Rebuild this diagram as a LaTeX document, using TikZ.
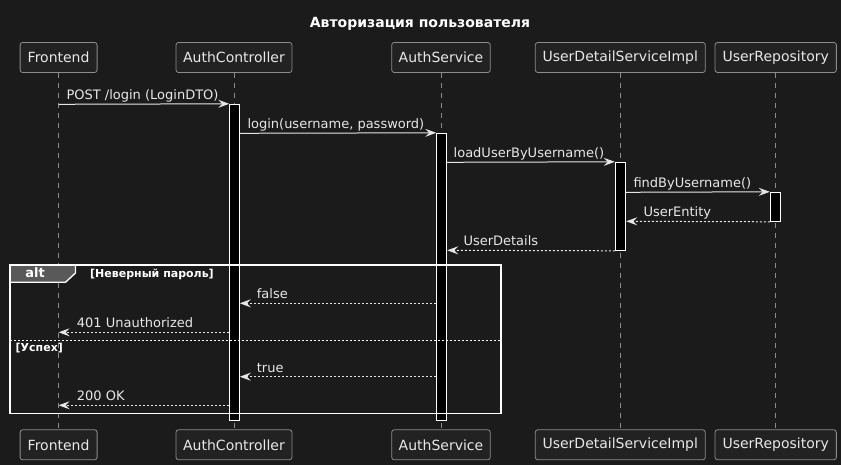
\documentclass[tikz,border=0pt]{standalone}
\usepackage{fontspec}
\setmainfont{DejaVu Sans}
\usetikzlibrary{arrows.meta}
\definecolor{bg}{HTML}{1B1B1B}
\definecolor{boxfill}{HTML}{222222}
\definecolor{boxline}{HTML}{8C8C8C}
\definecolor{txt}{HTML}{E8E8E8}
\definecolor{lifec}{HTML}{8A8A8A}
\definecolor{arrc}{HTML}{E6E6E6}
\definecolor{tabfill}{HTML}{595959}
\tikzset{
  part/.style={draw=boxline, fill=boxfill, rounded corners=2.5pt, line width=0.8pt, text=txt,
    font=\fontsize{14}{16}\selectfont, minimum height=30pt, inner sep=0pt},
  life/.style={draw=lifec, line width=0.8pt, dash pattern=on 5pt off 5pt},
  actbar/.style={draw=white, fill=black, line width=1pt, minimum width=10pt, inner sep=0pt},
  msg/.style={draw=arrc, line width=1pt, -{Stealth[length=11pt,width=8pt,inset=4pt]}},
  ret/.style={msg, dash pattern=on 2pt off 2pt},
  lbl/.style={anchor=base west, inner sep=0pt, text=txt, font=\fontsize{13}{15}\selectfont},
  guard/.style={anchor=base west, inner sep=0pt, text=white, font=\bfseries\fontsize{11}{13}\selectfont},
}
\begin{document}
\begin{tikzpicture}[x=1pt,y=-1pt]
\fill[bg] (0,0) rectangle (841,465);
\useasboundingbox (0,0) rectangle (841,465);

% title
\node[anchor=base, inner sep=0pt, text=white, font=\bfseries\fontsize{14}{16}\selectfont] (title) at (420,27.5) {Авторизация пользователя};

% participants top
\node[part, minimum width=77pt]  (ft) at (58.6,57.5)  {Frontend};
\node[part, minimum width=116pt] (ct) at (234.0,57.5) {AuthController};
\node[part, minimum width=98.6pt] (st) at (441.0,57.5) {AuthService};
\node[part, minimum width=170pt] (ut) at (620.3,57.5) {UserDetailServiceImpl};
\node[part, minimum width=121.3pt] (rt) at (775.7,57.5) {UserRepository};
% participants bottom
\node[part, minimum width=77pt]  (fb) at (58.6,444.8)  {Frontend};
\node[part, minimum width=116pt] (cb) at (234.0,444.8) {AuthController};
\node[part, minimum width=98.6pt] (sb) at (441.0,444.8) {AuthService};
\node[part, minimum width=170pt] (ub) at (620.3,444.8) {UserDetailServiceImpl};
\node[part, minimum width=121.3pt] (rb) at (775.7,444.8) {UserRepository};

% lifelines
\draw[life] (ft.south) -- (fb.north);
\draw[life] (ct.south) -- (cb.north);
\draw[life] (st.south) -- (sb.north);
\draw[life] (ut.south) -- (ub.north);
\draw[life] (rt.south) -- (rb.north);

% activation bars
\node[actbar, minimum width=9.6pt, minimum height=315.7pt] (ba) at (234.5,262.15) {};
\node[actbar, minimum height=287.4pt] (bs) at (441.7,277.0) {};
\node[actbar, minimum width=10.4pt, minimum height=88pt] (bu) at (620.5,206.3) {};
\node[actbar, minimum width=10.4pt, minimum height=29pt] (br) at (775.5,206.8) {};

% messages
\draw[msg] (ft.south |- 0,104.3) -- (ba.north west);
\node[lbl] (l1) at (66.3,99.8) {POST /login (LoginDTO)};
\draw[msg] (ba.east |- 0,133.3) -- (bs.north west);
\node[lbl] (l2) at (247.3,128.8) {login(username, password)};
\draw[msg] (bs.east |- 0,162.3) -- (bu.north west);
\node[lbl] (l3) at (453.5,157.8) {loadUserByUsername()};
\draw[msg] (bu.east |- 0,192.3) -- (br.north west);
\node[lbl] (l4) at (633.3,187.8) {findByUsername()};
\draw[ret] (br.south west) -- (bu.east |- 0,221.3);
\node[lbl] (l5) at (643.3,216.8) {UserEntity};
\draw[ret] (bu.south west) -- (bs.east |- 0,250.3);
\node[lbl] (l6) at (463.3,245.8) {UserDetails};

% alt frame
\coordinate (fa) at (10,265);
\coordinate (fz) at (501,413.7);
\draw[fill=tabfill, draw=white, line width=1.3pt] (10,265) -- (75.5,265) -- (75.5,273) -- (65.5,282.3) -- (10,282.3) -- cycle;
\draw[white, line width=1.5pt] (fa) rectangle (fz);
\node[anchor=base west, inner sep=0pt, text=white, font=\bfseries\fontsize{13}{15}\selectfont] (alt) at (25.2,277.3) {alt};
\node[guard] (g1) at (90,277.0) {[Неверный пароль]};
\coordinate (sepa) at (10,340.7);
\coordinate (sepb) at (501,340.7);
\draw[white, line width=0.9pt, dash pattern=on 2pt off 2pt] (sepa) -- (sepb);
\node[guard] (g2) at (15.5,351.5) {[Успех]};

\draw[ret] (bs.west |- 0,303.3) -- (ba.east |- 0,303.3);
\node[lbl] (l7) at (256.7,298.8) {false};
\draw[ret] (ba.west |- 0,332.3) -- (ft.south |- 0,332.3);
\node[lbl] (l8) at (76.7,327.8) {401 Unauthorized};
\draw[ret] (bs.west |- 0,376.7) -- (ba.east |- 0,376.7);
\node[lbl] (l9) at (256.7,372.2) {true};
\draw[ret] (ba.west |- 0,405.3) -- (ft.south |- 0,405.3);
\node[lbl] (l10) at (76.7,400.8) {200 OK};
\end{tikzpicture}
\end{document}
